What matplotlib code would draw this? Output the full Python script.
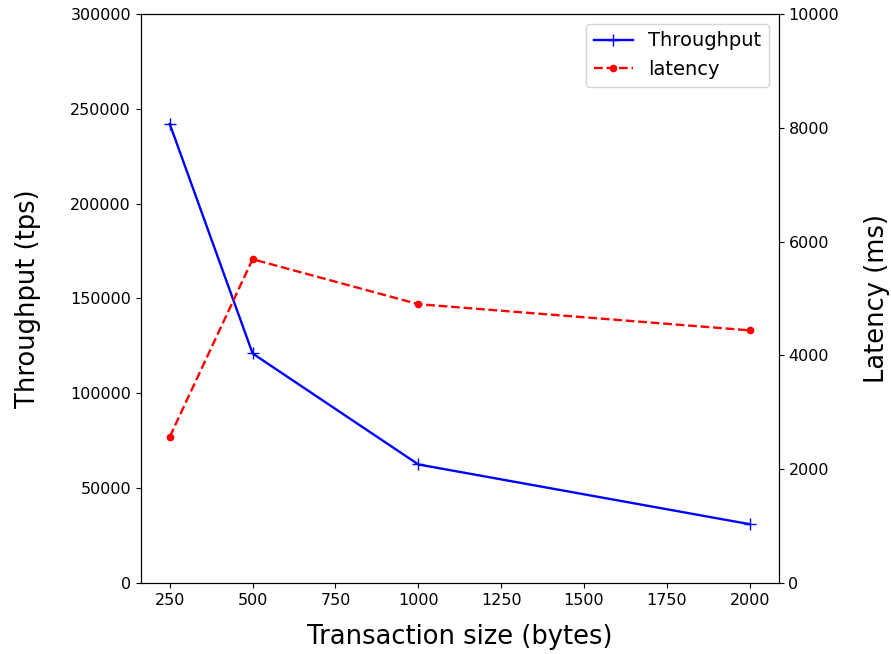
import matplotlib
matplotlib.use("Agg")
from matplotlib import pyplot as plt

# transaction sizes and measured values
sizes = [250, 500, 1000, 2000]
throughput = [242000, 121000, 62500, 31000]
latency = [2570, 5690, 4900, 4440]

fig = plt.figure(figsize=(8.91, 6.54), dpi=100)
ax1 = fig.add_axes([0.158, 0.1086, 0.716, 0.87])
ax2 = ax1.twinx()

l1, = ax1.plot(sizes, throughput, "b-", marker="+", markersize=9, linewidth=1.7, label="Throughput")
l2, = ax2.plot(sizes, latency, "r--", marker="o", markersize=4.5, linewidth=1.7, label="latency")

ax1.set_ylim(0, 300000)
ax2.set_ylim(0, 10000)
ax1.set_xlabel("Transaction size (bytes)", fontsize=18.5, labelpad=12)
ax1.set_ylabel("Throughput (tps)", fontsize=18.5, labelpad=21)
ax2.set_ylabel("Latency (ms)", fontsize=18.5, labelpad=18)
ax1.tick_params(labelsize=11.5)
ax2.tick_params(labelsize=11.5)

ax2.legend([l1, l2], ["Throughput", "latency"], loc="upper right", fontsize=14)

fig.savefig("out.png", dpi=100)
